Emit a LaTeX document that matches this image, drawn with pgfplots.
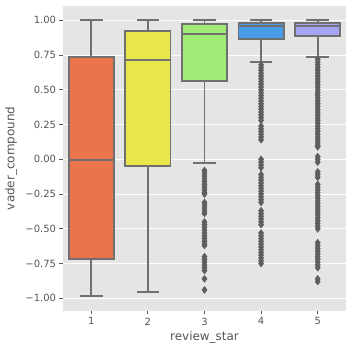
\documentclass[border=0pt]{standalone}
\usepackage{pgfplots}
\pgfplotsset{compat=1.18}
\usepackage{fontspec}
\setmainfont{DejaVu Sans}
\definecolor{bg}{HTML}{E5E5E5}
\definecolor{txt}{HTML}{555555}
\definecolor{lg}{HTML}{707070}
\definecolor{fl}{HTML}{5E5E5E}
\definecolor{c1}{HTML}{EA744B}
\definecolor{c2}{HTML}{E8E64A}
\definecolor{c3}{HTML}{A1EC76}
\definecolor{c4}{HTML}{4A9CE8}
\definecolor{c5}{HTML}{A6A4F5}
\begin{document}
\begin{tikzpicture}
\begin{axis}[
  scale only axis,
  width=283bp, height=304.7bp,
  xmin=0.5, xmax=5.5,
  ymin=-1.089, ymax=1.103,
  xtick={1,2,3,4,5},
  ytick={-1,-0.75,-0.5,-0.25,0,0.25,0.5,0.75,1},
  yticklabels={−1.00,−0.75,−0.50,−0.25,0.00,0.25,0.50,0.75,1.00},
  axis background/.style={fill=bg},
  axis line style={draw=none},
  ymajorgrids, xmajorgrids=false,
  grid style={white, line width=1bp},
  tick align=outside,
  major tick length=3.5bp,
  tick style={txt, line width=0.9bp},
  xtick pos=bottom, ytick pos=left,
  ticklabel style={font=\fontsize{10}{12}\selectfont, text=txt},
  /pgf/number format/assume math mode=true,
  xlabel={review\_star}, ylabel={vader\_compound},
  every axis y label/.style={at={(axis description cs:-0.183,0.5)}, rotate=90, anchor=center, font=\fontsize{12}{14}\selectfont, text=txt},
  every axis x label/.style={at={(axis description cs:0.5,-0.087)}, anchor=center, font=\fontsize{12}{14}\selectfont, text=txt},
  unbounded coords=jump,
  clip=false,
]
% whiskers and caps
\addplot[draw=lg, line width=1.8bp, line cap=butt] coordinates {
(1,0.734) (1,1.0) (nan,nan) (0.8,1.0) (1.2,1.0) (nan,nan)
(1,-0.717) (1,-0.986) (nan,nan) (0.8,-0.986) (1.2,-0.986) (nan,nan)
(2,0.924) (2,1.0) (nan,nan) (1.8,1.0) (2.2,1.0) (nan,nan)
(2,-0.048) (2,-0.952) (nan,nan) (1.8,-0.952) (2.2,-0.952) (nan,nan)
(3,0.971) (3,1.0) (nan,nan) (2.8,1.0) (3.2,1.0) (nan,nan)
(3,0.561) (3,-0.029) (nan,nan) (2.8,-0.029) (3.2,-0.029) (nan,nan)
(4,0.983) (4,1.0) (nan,nan) (3.8,1.0) (4.2,1.0) (nan,nan)
(4,0.868) (4,0.698) (nan,nan) (3.8,0.698) (4.2,0.698) (nan,nan)
(5,0.983) (5,1.0) (nan,nan) (4.8,1.0) (5.2,1.0) (nan,nan)
(5,0.885) (5,0.734) (nan,nan) (4.8,0.734) (5.2,0.734)
};
% boxes
\addplot[fill=c1, draw=lg, line width=1.8bp] coordinates {(0.6,-0.717) (1.4,-0.717) (1.4,0.734) (0.6,0.734)} -- cycle;
\addplot[fill=c2, draw=lg, line width=1.8bp] coordinates {(1.6,-0.048) (2.4,-0.048) (2.4,0.924) (1.6,0.924)} -- cycle;
\addplot[fill=c3, draw=lg, line width=1.8bp] coordinates {(2.6,0.561) (3.4,0.561) (3.4,0.971) (2.6,0.971)} -- cycle;
\addplot[fill=c4, draw=lg, line width=1.8bp] coordinates {(3.6,0.868) (4.4,0.868) (4.4,0.983) (3.6,0.983)} -- cycle;
\addplot[fill=c5, draw=lg, line width=1.8bp] coordinates {(4.6,0.885) (5.4,0.885) (5.4,0.983) (4.6,0.983)} -- cycle;
% medians
\addplot[draw=lg, line width=1.8bp, line cap=butt] coordinates {
(0.6,-0.007) (1.4,-0.007) (nan,nan)
(1.6,0.712) (2.4,0.712) (nan,nan)
(2.6,0.902) (3.4,0.902) (nan,nan)
(3.6,0.957) (4.4,0.957) (nan,nan)
(4.6,0.960) (5.4,0.960)
};
% outliers
\addplot[only marks, mark=diamond*, mark size=3.5bp, color=fl, mark options={fill=fl, draw=fl, line width=0.4bp}] coordinates {
(3,-0.08) (3,-0.10) (3,-0.12) (3,-0.14) (3,-0.16) (3,-0.18) (3,-0.20) (3,-0.22) (3,-0.24) (3,-0.25)
(3,-0.31) (3,-0.33) (3,-0.35) (3,-0.37) (3,-0.39)
(3,-0.45) (3,-0.47) (3,-0.49) (3,-0.51) (3,-0.53) (3,-0.55) (3,-0.57) (3,-0.59) (3,-0.61) (3,-0.62)
(3,-0.70) (3,-0.72) (3,-0.74) (3,-0.76) (3,-0.78) (3,-0.80)
(3,-0.86) (3,-0.94)
};
\addplot[only marks, mark=diamond*, mark size=3.5bp, color=fl, mark options={fill=fl, draw=fl, line width=0.4bp}] coordinates {
(4,0.68) (4,0.66) (4,0.64) (4,0.62) (4,0.60) (4,0.58) (4,0.56) (4,0.54) (4,0.52) (4,0.50)
(4,0.48) (4,0.46) (4,0.44) (4,0.42) (4,0.40) (4,0.38) (4,0.36) (4,0.34) (4,0.32) (4,0.30) (4,0.28)
(4,0.24) (4,0.22) (4,0.20) (4,0.18) (4,0.16) (4,0.14)
(4,0.00) (4,-0.02) (4,-0.04) (4,-0.06)
(4,-0.11) (4,-0.13) (4,-0.15) (4,-0.17) (4,-0.19) (4,-0.21) (4,-0.23) (4,-0.25) (4,-0.27) (4,-0.29) (4,-0.31)
(4,-0.37) (4,-0.39) (4,-0.41) (4,-0.43) (4,-0.45) (4,-0.47)
(4,-0.53) (4,-0.55) (4,-0.57) (4,-0.59) (4,-0.61) (4,-0.63) (4,-0.65) (4,-0.67) (4,-0.69) (4,-0.71) (4,-0.73) (4,-0.75)
};
\addplot[only marks, mark=diamond*, mark size=3.5bp, color=fl, mark options={fill=fl, draw=fl, line width=0.4bp}] coordinates {
(5,0.72) (5,0.70) (5,0.68) (5,0.66) (5,0.64) (5,0.62) (5,0.60) (5,0.58) (5,0.56) (5,0.54)
(5,0.52) (5,0.50) (5,0.48) (5,0.46) (5,0.44) (5,0.42) (5,0.40) (5,0.38) (5,0.36) (5,0.34)
(5,0.32) (5,0.30) (5,0.28) (5,0.26) (5,0.24) (5,0.22) (5,0.20) (5,0.18) (5,0.16) (5,0.14)
(5,0.12) (5,0.10) (5,0.09)
(5,0.02) (5,0.00) (5,-0.02)
(5,-0.09) (5,-0.11) (5,-0.13)
(5,-0.18) (5,-0.20) (5,-0.22) (5,-0.24) (5,-0.26) (5,-0.28) (5,-0.30) (5,-0.32) (5,-0.34)
(5,-0.36) (5,-0.38) (5,-0.40) (5,-0.42) (5,-0.44) (5,-0.46) (5,-0.48) (5,-0.50)
(5,-0.60) (5,-0.62) (5,-0.64) (5,-0.66) (5,-0.68) (5,-0.70) (5,-0.72) (5,-0.74) (5,-0.76) (5,-0.78)
(5,-0.86) (5,-0.88)
};
\end{axis}
\pgfresetboundingbox
\path (current axis.south west) ++(-63bp,-41.3bp) rectangle ++(352bp,352bp);
\end{tikzpicture}
\end{document}
